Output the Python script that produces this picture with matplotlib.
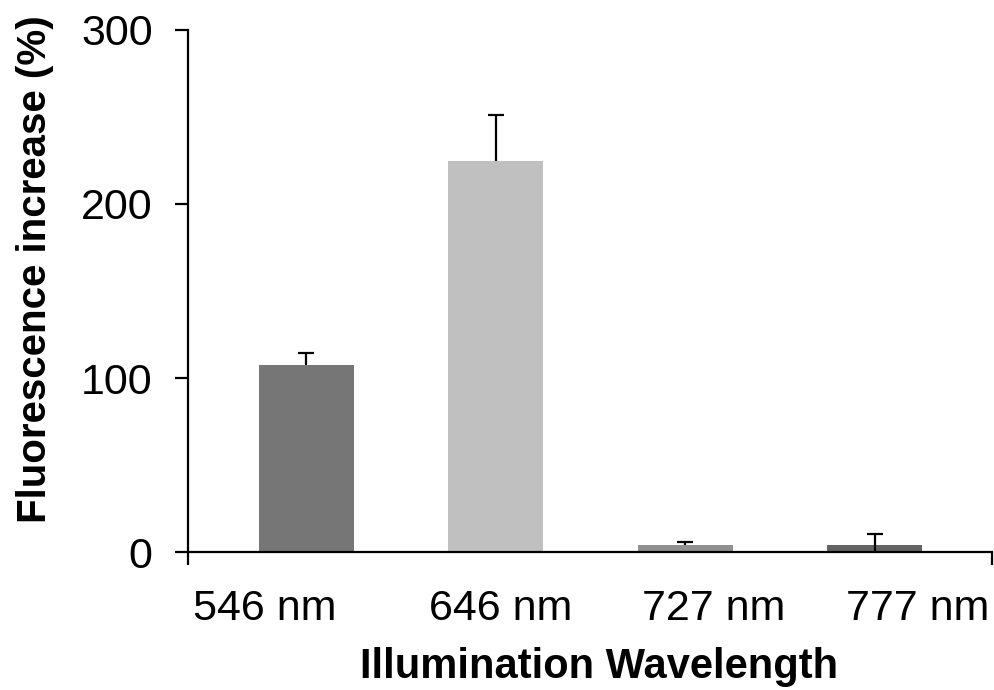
import matplotlib
matplotlib.use("Agg")
import matplotlib.pyplot as plt
import matplotlib.transforms as mtransforms

categories = ["546 nm", "646 nm", "727 nm", "777 nm"]
values = [107.5, 224.7, 4.0, 4.0]
err_upper = [6.7, 26.5, 2.0, 6.2]
err_lower = [0.0, 0.0, 0.0, 6.2]
colors = ["#767676", "#c0c0c0", "#909090", "#646464"]
yticks = [0, 100, 200, 300]

plt.rcParams["font.family"] = ["Liberation Sans", "DejaVu Sans"]

W, H = 994, 690
fig = plt.figure(figsize=(W / 100, H / 100), dpi=100)
ax = fig.add_axes([188 / W, (H - 552) / H, (992 - 188) / W, (552 - 30) / H])

x = list(range(len(categories)))
ax.bar(x, values, width=0.5, color=colors, zorder=2)

# error bars: stem plus a single cap at the upper end
lo = [v - e for v, e in zip(values, err_lower)]
hi = [v + e for v, e in zip(values, err_upper)]
ax.vlines(x, lo, hi, colors="black", linewidth=1.6, zorder=3)
ax.plot(x, hi, linestyle="none", marker="_", markersize=12, markeredgewidth=1.6,
        color="black", zorder=3)

xlo, xhi = -0.625, 3.62
ax.set_xlim(xlo, xhi)
ax.set_ylim(0, 300)

ax.spines["top"].set_visible(False)
ax.spines["right"].set_visible(False)
for s in ("left", "bottom"):
    ax.spines[s].set_linewidth(1.6)

ax.set_yticks(yticks)
ax.set_yticklabels([str(v) for v in yticks])
ax.tick_params(axis="y", direction="out", length=9.5, width=1.6, labelsize=31, pad=16)

# x axis: end ticks only, category labels placed under the bars
ax.set_xticks([])
ax.set_xticks([xlo, xhi], minor=True)
ax.tick_params(axis="x", which="minor", direction="out", length=9.5, width=1.6)

label_shift_px = [-42, 5, 29, 43]
for xi, name, dx in zip(x, categories, label_shift_px):
    tr = mtransforms.blended_transform_factory(ax.transData, fig.transFigure) + \
        mtransforms.ScaledTranslation(dx / 100, 0, fig.dpi_scale_trans)
    ax.text(xi, (H - 620) / H, name, transform=tr, ha="center", va="baseline",
            fontsize=31)

fig.text(599 / W, (H - 678) / H, "Illumination Wavelength", ha="center",
         va="baseline", fontsize=30, fontweight="bold")
fig.text(35 / W, (H - 269) / H, "Fluorescence increase (%)", ha="center",
         va="center", rotation=90, fontsize=29, fontweight="bold")

fig.savefig("out.png", dpi=100)
